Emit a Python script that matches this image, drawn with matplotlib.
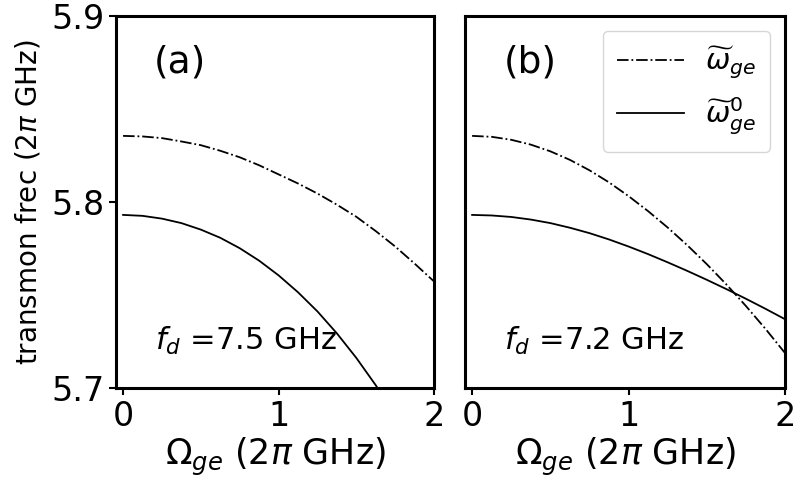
import numpy as np
import matplotlib
matplotlib.use('Agg')
import matplotlib.pyplot as plt

# Omega_ge grid (2pi GHz)
omega = [0, 0.125, 0.25, 0.375, 0.5, 0.625, 0.75, 0.875, 1.0,
         1.125, 1.25, 1.375, 1.5, 1.625, 1.75, 1.875, 2.0]

# panel (a), f_d = 7.5 GHz
wt_a = [5.8355, 5.8352, 5.8343, 5.8325, 5.8305, 5.8275, 5.8240, 5.8197, 5.8148,
        5.8099, 5.8045, 5.7985, 5.7920, 5.7843, 5.7760, 5.7668, 5.7572]
wt0_a = [5.7930, 5.7925, 5.7910, 5.7886, 5.7851, 5.7807, 5.7751, 5.7684, 5.7605,
         5.7514, 5.7411, 5.7293, 5.7161, 5.7014, 5.6850, 5.6669, 5.6468]

# panel (b), f_d = 7.2 GHz
wt_b = [5.8355, 5.8350, 5.8334, 5.8308, 5.8272, 5.8226, 5.8170, 5.8105, 5.8031,
        5.7950, 5.7862, 5.7767, 5.7665, 5.7556, 5.7440, 5.7317, 5.7187]
wt0_b = [5.7930, 5.7927, 5.7919, 5.7905, 5.7886, 5.7861, 5.7832, 5.7798, 5.7760,
         5.7719, 5.7675, 5.7629, 5.7581, 5.7531, 5.7479, 5.7425, 5.7369]

panels = ['(a)', '(b)']
fd_labels = ['$f_d$ =7.5 GHz', '$f_d$ =7.2 GHz']

fig = plt.figure(figsize=(7.95, 4.83), dpi=100)
ax1 = fig.add_axes([0.146, 0.197, 0.400, 0.770])
ax2 = fig.add_axes([0.585, 0.197, 0.4025, 0.770], sharey=ax1)

data = [(wt_a, wt0_a), (wt_b, wt0_b)]
for i, ax in enumerate([ax1, ax2]):
    wt, wt0 = data[i]
    ax.plot(omega, wt, 'k-.', lw=1.3, label=r'$\widetilde{\omega}_{ge}$')
    ax.plot(omega, wt0, 'k-', lw=1.3, label=r'$\widetilde{\omega}^0_{ge}$')
    ax.set_xlim(-0.045, 2.0)
    ax.set_ylim(5.7, 5.9)
    ax.set_xticks([0, 1, 2])
    ax.tick_params(labelsize=24, width=1.5, length=5)
    for s in ax.spines.values():
        s.set_linewidth(2.2)
    ax.set_xlabel(r'$\Omega_{ge}$ (2$\pi$ GHz)', fontsize=25, labelpad=2)
    ax.text(0.12, 0.876, panels[i], transform=ax.transAxes, fontsize=27, va='center')
    ax.text(0.123, 0.126, fd_labels[i], transform=ax.transAxes, fontsize=22, va='center')

ax1.set_yticks([5.7, 5.8, 5.9])
ax1.set_ylabel(r'transmon frec (2$\pi$ GHz)', fontsize=20, labelpad=6)
plt.setp(ax2.get_yticklabels(), visible=False)
ax2.tick_params(axis='y', left=False)
ax2.legend(loc='upper right', fontsize=21, handlelength=2.3, handletextpad=0.7,
           borderpad=0.5)

fig.savefig('out.png', dpi=100)
